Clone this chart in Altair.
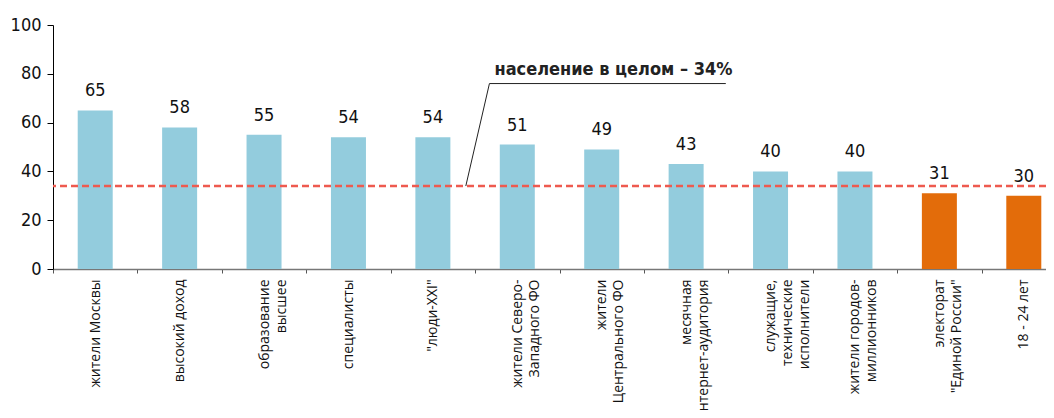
import altair as alt
import pandas as pd

categories = [
    "жители Москвы",
    "высокий доход",
    "образование|высшее",
    "специалисты",
    "\"люди-XXI\"",
    "жители Северо-|Западного ФО",
    "жители|Центрального ФО",
    "месячная|интернет-аудитория",
    "служащие,|технические|исполнители",
    "жители городов-|миллионников",
    "электорат|\"Единой России\"",
    "18 - 24 лет",
]
values = [65, 58, 55, 54, 54, 51, 49, 43, 40, 40, 31, 30]
groups = ["a"] * 10 + ["b"] * 2
overall = 34
overall_label = "население в целом – 34%"

# annotation leader (in category-index units along x, value units along y)
leader_x = [4.89, 5.17, 7.97]
leader_y = [34, 76, 76]
note_x = [5.23]
note_y = [81.5]

df = pd.DataFrame({"cat": categories, "val": values, "grp": groups})
ref = pd.DataFrame({"y": [overall]})
lead = pd.DataFrame({"x": leader_x, "y": leader_y, "o": list(range(len(leader_x)))})
note = pd.DataFrame({"x": note_x, "y": note_y, "t": [overall_label]})

NARROW = "Liberation Sans Narrow, DejaVu Sans Condensed, Roboto"
XRANGE = [0, 1013]

yaxis = alt.Axis(
    title=None,
    values=[0, 20, 40, 60, 80, 100],
    grid=False,
    labelFont=NARROW,
    labelFontSize=18,
    labelColor="#111",
    labelPadding=6,
    tickColor="#000",
    tickSize=6,
    domainColor="#000",
)
yscale = alt.Scale(domain=[0, 100])

xenc = alt.X(
    "cat:N",
    sort=categories,
    scale=alt.Scale(paddingInner=0, paddingOuter=0, range=XRANGE),
    axis=alt.Axis(
        title=None,
        labelAngle=-90,
        labelExpr="split(datum.label, '|')",
        labelFont="Open Sans",
        labelFontSize=14,
        labelColor="#111",
        labelLineHeight=17,
        labelPadding=6,
        tickBand="extent",
        tickColor="#555",
        tickSize=4,
        domainColor="#777",
        domainWidth=1.5,
    ),
)

bars = alt.Chart(df).mark_bar(width=35).encode(
    x=xenc,
    y=alt.Y("val:Q", scale=yscale, axis=yaxis),
    color=alt.Color(
        "grp:N",
        scale=alt.Scale(domain=["a", "b"], range=["#93CCDD", "#E36C0A"]),
        legend=None,
    ),
)
labels = alt.Chart(df).mark_text(
    baseline="bottom", dy=-10, font=NARROW, fontSize=18, color="#111"
).encode(
    x=alt.X("cat:N", sort=categories),
    y=alt.Y("val:Q", scale=yscale, axis=yaxis),
    text="val:Q",
)

rule = alt.Chart(ref).mark_rule(
    color="#EE5A4F", strokeDash=[7, 4], strokeWidth=2.5
).encode(y=alt.Y("y:Q", scale=yscale, axis=yaxis))

bars_layer = alt.layer(bars, labels, rule)

xq = alt.Scale(domain=[0, len(categories)], range=XRANGE)
leader = alt.Chart(lead).mark_line(color="#222", strokeWidth=1).encode(
    x=alt.X("x:Q", scale=xq, axis=None),
    y=alt.Y("y:Q", scale=yscale, axis=yaxis),
    order="o:Q",
)
note_text = alt.Chart(note).mark_text(
    align="left", baseline="middle", font=NARROW, fontSize=18,
    fontWeight="bold", color="#222",
).encode(
    x=alt.X("x:Q", scale=xq, axis=None),
    y=alt.Y("y:Q", scale=yscale, axis=yaxis),
    text="t:N",
)

chart = (
    alt.layer(bars_layer, leader, note_text)
    .resolve_scale(x="independent")
    .properties(
        width=993,
        height=244,
        autosize=alt.AutoSizeParams(type="none"),
        padding={"left": 45, "top": 17, "right": 0, "bottom": 141},
    )
    .configure_view(stroke=None)
)

chart.save("out.html", embed_options={"renderer": "svg", "actions": False})
